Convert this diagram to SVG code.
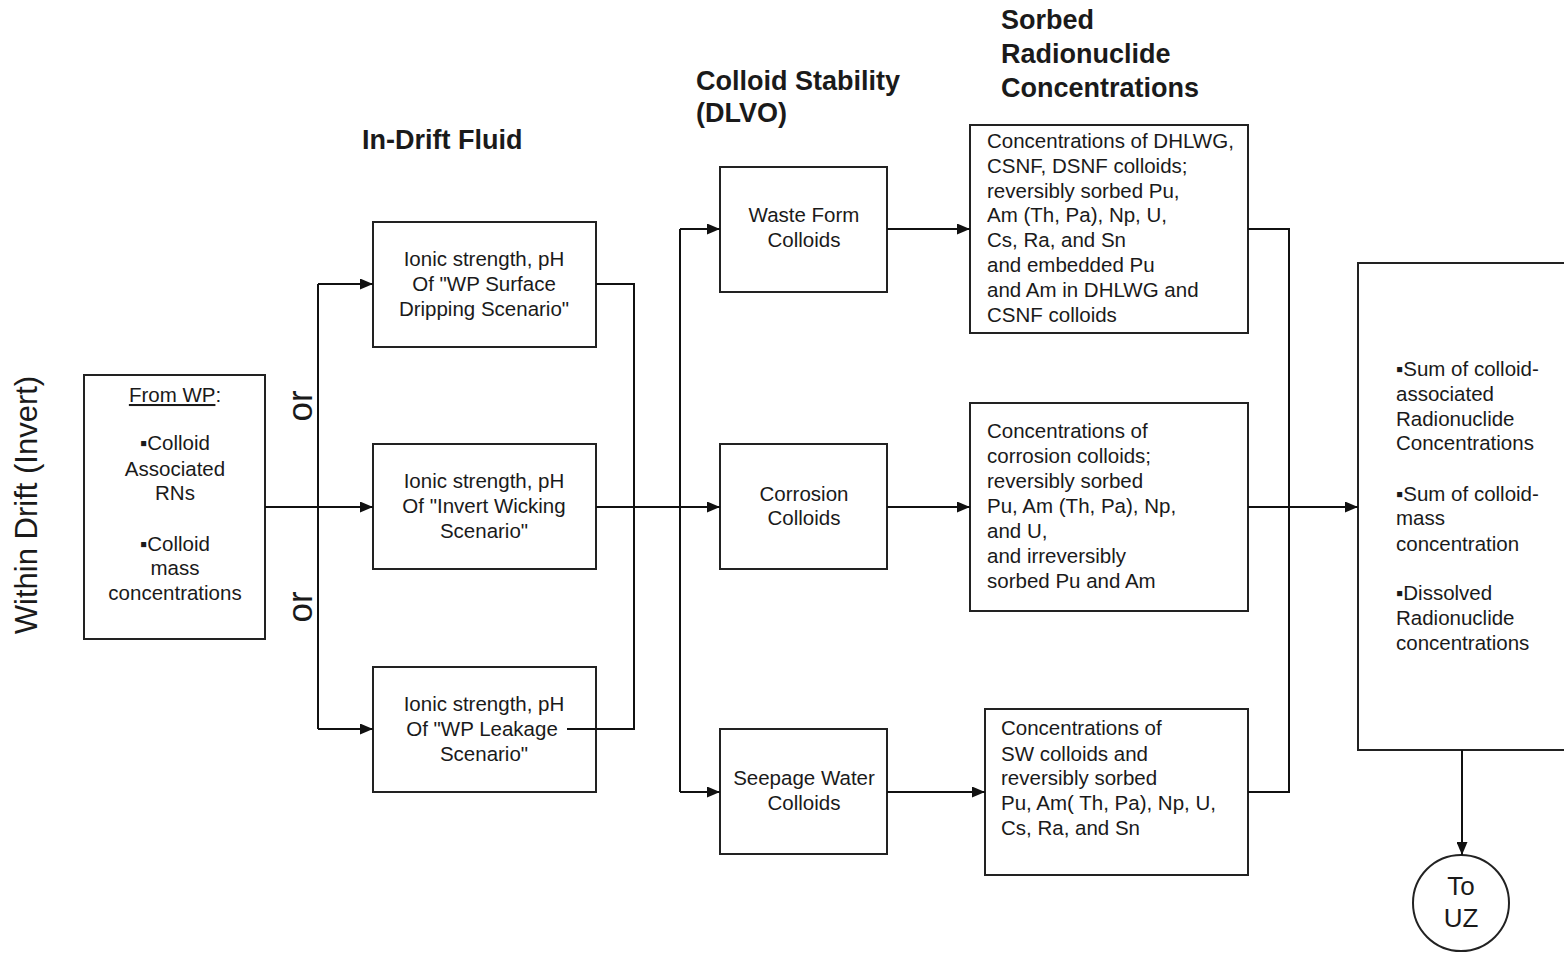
<svg xmlns="http://www.w3.org/2000/svg" width="1564" height="954" viewBox="0 0 1564 954">
<style>
text{font-family:"Liberation Sans",Arial,sans-serif;fill:#1a1a1a}
.h{font-size:27px;font-weight:bold}
.b{font-size:20.5px}
.c{text-anchor:middle}
.box{fill:#fff;stroke:#222;stroke-width:2}
.ln{fill:none;stroke:#111;stroke-width:2}
</style>
<defs>
<marker id="ah" markerUnits="userSpaceOnUse" markerWidth="13" markerHeight="11" refX="13" refY="5.5" orient="auto">
<path d="M0,0 L13,5.5 L0,11 z" fill="#111"/>
</marker>
</defs>
<rect width="1564" height="954" fill="#fff"/>

<g id="headings">
<text class="h" x="362" y="149">In-Drift Fluid</text>
<text class="h" x="696" y="90">Colloid Stability</text>
<text class="h" x="696" y="122">(DLVO)</text>
<text class="h" x="1001" y="29">Sorbed</text>
<text class="h" x="1001" y="63">Radionuclide</text>
<text class="h" x="1001" y="97">Concentrations</text>
<text x="37" y="505" font-size="31" text-anchor="middle" transform="rotate(-90 37 505)">Within Drift (Invert)</text>
<text x="312" y="406" font-size="35" text-anchor="middle" transform="rotate(-90 312 406)">or</text>
<text x="312" y="607" font-size="35" text-anchor="middle" transform="rotate(-90 312 607)">or</text>
</g>

<g id="from-wp">
<rect class="box" x="84" y="375" width="181" height="264"/>
<text class="b c" x="175" y="402"><tspan text-decoration="underline">From WP</tspan>:</text>
<text class="b c" x="175" y="450">▪Colloid</text>
<text class="b c" x="175" y="476">Associated</text>
<text class="b c" x="175" y="500">RNs</text>
<text class="b c" x="175" y="551">▪Colloid</text>
<text class="b c" x="175" y="575">mass</text>
<text class="b c" x="175" y="600">concentrations</text>
</g>

<g id="fluid-dripping">
<rect class="box" x="373" y="222" width="223" height="125"/>
<text class="b c" x="484" y="266">Ionic strength, pH</text>
<text class="b c" x="484" y="291">Of "WP Surface</text>
<text class="b c" x="484" y="316">Dripping Scenario"</text>
</g>

<g id="fluid-wicking">
<rect class="box" x="373" y="444" width="223" height="125"/>
<text class="b c" x="484" y="488">Ionic strength, pH</text>
<text class="b c" x="484" y="513">Of "Invert Wicking</text>
<text class="b c" x="484" y="538">Scenario"</text>
</g>

<g id="fluid-leakage">
<rect class="box" x="373" y="667" width="223" height="125"/>
<text class="b c" x="484" y="711">Ionic strength, pH</text>
<text class="b c" x="482" y="736">Of "WP Leakage</text>
<text class="b c" x="484" y="761">Scenario"</text>
</g>

<g id="waste-form-colloids">
<rect class="box" x="720" y="167" width="167" height="125"/>
<text class="b c" x="804" y="222">Waste Form</text>
<text class="b c" x="804" y="247">Colloids</text>
</g>

<g id="corrosion-colloids">
<rect class="box" x="720" y="444" width="167" height="125"/>
<text class="b c" x="804" y="501">Corrosion</text>
<text class="b c" x="804" y="525">Colloids</text>
</g>

<g id="seepage-colloids">
<rect class="box" x="720" y="729" width="167" height="125"/>
<text class="b c" x="804" y="785">Seepage Water</text>
<text class="b c" x="804" y="810">Colloids</text>
</g>

<g id="sorbed-waste-form">
<rect class="box" x="970" y="125" width="278" height="208"/>
<text class="b" x="987" y="148">Concentrations of DHLWG,</text>
<text class="b" x="987" y="173">CSNF, DSNF colloids;</text>
<text class="b" x="987" y="198">reversibly sorbed Pu,</text>
<text class="b" x="987" y="222">Am (Th, Pa), Np, U,</text>
<text class="b" x="987" y="247">Cs, Ra, and Sn</text>
<text class="b" x="987" y="272">and embedded Pu</text>
<text class="b" x="987" y="297">and Am in DHLWG and</text>
<text class="b" x="987" y="322">CSNF colloids</text>
</g>

<g id="sorbed-corrosion">
<rect class="box" x="970" y="403" width="278" height="208"/>
<text class="b" x="987" y="438">Concentrations of</text>
<text class="b" x="987" y="463">corrosion colloids;</text>
<text class="b" x="987" y="488">reversibly sorbed</text>
<text class="b" x="987" y="513">Pu, Am (Th, Pa), Np,</text>
<text class="b" x="987" y="538">and U,</text>
<text class="b" x="987" y="563">and irreversibly</text>
<text class="b" x="987" y="588">sorbed Pu and Am</text>
</g>

<g id="sorbed-seepage">
<rect class="box" x="985" y="709" width="263" height="166"/>
<text class="b" x="1001" y="735">Concentrations of</text>
<text class="b" x="1001" y="761">SW colloids and</text>
<text class="b" x="1001" y="785">reversibly sorbed</text>
<text class="b" x="1001" y="810">Pu, Am( Th, Pa), Np, U,</text>
<text class="b" x="1001" y="835">Cs, Ra, and Sn</text>
</g>

<g id="sum-box">
<rect class="box" x="1358" y="263" width="220" height="487"/>
<text class="b" x="1396" y="376">▪Sum of colloid-</text>
<text class="b" x="1396" y="401">associated</text>
<text class="b" x="1396" y="426">Radionuclide</text>
<text class="b" x="1396" y="450">Concentrations</text>
<text class="b" x="1396" y="501">▪Sum of colloid-</text>
<text class="b" x="1396" y="525">mass</text>
<text class="b" x="1396" y="551">concentration</text>
<text class="b" x="1396" y="600">▪Dissolved</text>
<text class="b" x="1396" y="625">Radionuclide</text>
<text class="b" x="1396" y="650">concentrations</text>
</g>

<g id="to-uz">
<circle cx="1461" cy="903" r="48" fill="#fff" stroke="#222" stroke-width="2"/>
<text class="c" x="1461" y="895" font-size="26">To</text>
<text class="c" x="1461" y="927" font-size="26">UZ</text>
</g>

<g id="connectors">
<path class="ln" d="M265,507 H373" marker-end="url(#ah)"/>
<path class="ln" d="M318,284 V729"/>
<path class="ln" d="M318,284 H373" marker-end="url(#ah)"/>
<path class="ln" d="M318,729 H373" marker-end="url(#ah)"/>
<path class="ln" d="M596,284 H634 V729 H567"/>
<path class="ln" d="M596,507 H720" marker-end="url(#ah)"/>
<path class="ln" d="M680,229 V792"/>
<path class="ln" d="M680,229 H720" marker-end="url(#ah)"/>
<path class="ln" d="M680,792 H720" marker-end="url(#ah)"/>
<path class="ln" d="M887,229 H970" marker-end="url(#ah)"/>
<path class="ln" d="M887,507 H970" marker-end="url(#ah)"/>
<path class="ln" d="M887,792 H985" marker-end="url(#ah)"/>
<path class="ln" d="M1248,229 H1289 V792 H1248"/>
<path class="ln" d="M1248,507 H1358" marker-end="url(#ah)"/>
<path class="ln" d="M1462,750 V855" marker-end="url(#ah)"/>
</g>
</svg>
